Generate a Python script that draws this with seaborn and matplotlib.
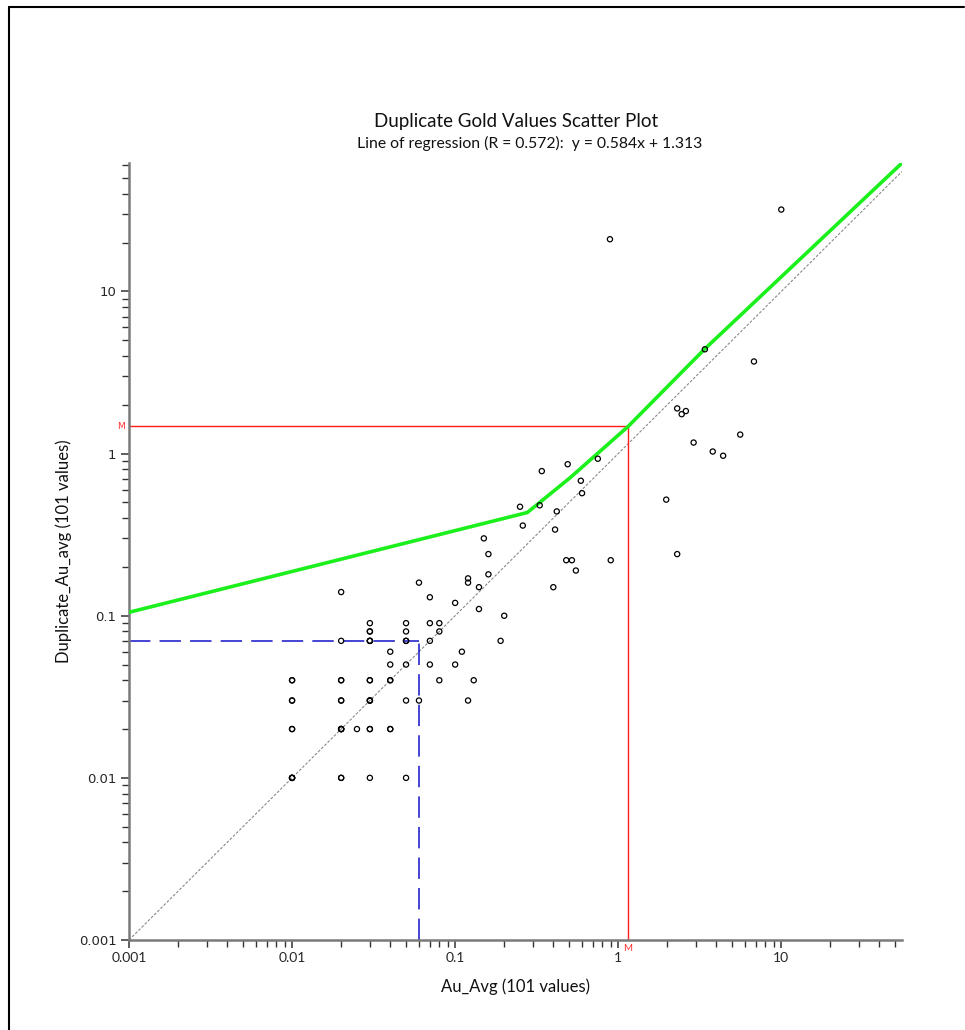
import numpy as np
import pandas as pd
import matplotlib
matplotlib.use("Agg")
import matplotlib.pyplot as plt
import seaborn as sns
from matplotlib.ticker import LogLocator, FixedLocator, FixedFormatter, NullFormatter
from matplotlib.lines import Line2D

# ---------------- data ----------------
au_avg = [
    0.06, 0.02, 0.12, 0.12, 0.07, 0.10,
    0.03, 0.03, 0.03, 0.05, 0.05, 0.05,
    0.07, 0.08, 0.08, 0.02, 0.07, 0.04, 0.11,
    0.04, 0.05, 0.07, 0.10,
    0.01, 0.02, 0.03, 0.04, 0.08, 0.13,
    0.01, 0.02, 0.03, 0.05, 0.06, 0.12,
    0.01, 0.02, 0.025, 0.03, 0.04,
    0.01, 0.02, 0.03, 0.05,
    0.75, 0.49, 0.34, 0.59, 0.60, 0.25, 0.33, 0.42, 0.26, 0.41,
    0.15, 0.16, 0.48, 0.52, 0.90, 0.55, 0.16, 0.14, 0.40, 0.14,
    0.20, 0.19,
    10.0, 0.89, 3.4, 6.8, 2.3, 2.6, 2.45, 5.6, 2.9, 3.8, 4.4, 1.97, 2.3,
    # repeated (overlapping) values
    0.01, 0.01, 0.01, 0.02, 0.02, 0.02, 0.01, 0.01, 0.02, 0.03, 0.03,
    0.02, 0.03, 0.04, 0.03, 0.03, 0.03, 0.03, 0.01, 0.02, 0.05, 0.04,
]
dup_au_avg = [
    0.16, 0.14, 0.17, 0.16, 0.13, 0.12,
    0.09, 0.08, 0.07, 0.09, 0.08, 0.07,
    0.09, 0.09, 0.08, 0.07, 0.07, 0.06, 0.06,
    0.05, 0.05, 0.05, 0.05,
    0.04, 0.04, 0.04, 0.04, 0.04, 0.04,
    0.03, 0.03, 0.03, 0.03, 0.03, 0.03,
    0.02, 0.02, 0.02, 0.02, 0.02,
    0.01, 0.01, 0.01, 0.01,
    0.93, 0.86, 0.78, 0.68, 0.57, 0.47, 0.48, 0.44, 0.36, 0.34,
    0.30, 0.24, 0.22, 0.22, 0.22, 0.19, 0.18, 0.15, 0.15, 0.11,
    0.10, 0.07,
    32.0, 21.0, 4.4, 3.7, 1.90, 1.83, 1.75, 1.31, 1.17, 1.03, 0.97, 0.52, 0.24,
    0.01, 0.01, 0.01, 0.02, 0.02, 0.02, 0.02, 0.03, 0.03, 0.03, 0.03,
    0.04, 0.04, 0.02, 0.02, 0.07, 0.07, 0.08, 0.04, 0.01, 0.07, 0.04,
]

# regression curve as drawn
reg_x = [0.001, 0.277, 0.508, 1.15, 3.37, 55.0]
reg_y = [0.105, 0.433, 0.711, 1.47, 4.39, 62.0]

# mean (M) and median markers
mean_x, mean_y = 1.15, 1.47
median_x, median_y = 0.06, 0.07

x_ticks = [0.001, 0.01, 0.1, 1, 10]
x_tick_labels = ["0.001", "0.01", "0.1", "1", "10"]
y_ticks = [0.001, 0.01, 0.1, 1, 10]
y_tick_labels = ["0.001", "0.01", "0.1", "1", "10"]

x_min, x_max = 0.001, 55.0
y_min, y_max = 0.001, 62.0

title = "Duplicate Gold Values Scatter Plot"
subtitle = "Line of regression (R = 0.572):  y = 0.584x + 1.313"
x_label = "Au_Avg (101 values)"
y_label = "Duplicate_Au_avg (101 values)"

df = pd.DataFrame({"Au_Avg": au_avg, "Dup": dup_au_avg})

# ---------------- plot ----------------
sns.set_theme(style="white")
plt.rcParams["font.family"] = ["Lato", "DejaVu Sans"]

fig = plt.figure(figsize=(9.65, 10.3), dpi=100)
ax = fig.add_axes([129 / 965, 1 - 940 / 1030, 773 / 965, 777 / 1030])
ax.set_xscale("log")
ax.set_yscale("log")
ax.set_xlim(x_min, x_max)
ax.set_ylim(y_min, y_max)

# y = x reference
ax.plot([x_min, x_max], [x_min, x_max], color="#8a8a8a", lw=0.8,
        ls=(0, (2.5, 1.5)), zorder=1)

# median (blue dashed)
blue = "#1212c8"
ax.plot([x_min, median_x], [median_y, median_y], color=blue, lw=1.1,
        ls=(0, (14, 6)), zorder=2)
ax.plot([median_x, median_x], [y_min, median_y], color=blue, lw=1.1,
        ls=(0, (14, 6)), zorder=2)

# mean (red)
ax.plot([x_min, mean_x], [mean_y, mean_y], color="#ff1a1a", lw=1.0, zorder=2)
ax.plot([mean_x, mean_x], [y_min, mean_y], color="#ff1a1a", lw=1.0, zorder=2)

# regression curve
ax.plot(reg_x, reg_y, color="#1cf01c", lw=2.6, zorder=3, solid_capstyle="butt")

# scatter
sns.scatterplot(data=df, x="Au_Avg", y="Dup", ax=ax, marker="o", s=14,
                facecolor="none", edgecolor="black", linewidth=0.9, zorder=4,
                legend=False)

# spines / ticks
for side in ["top", "right"]:
    ax.spines[side].set_visible(False)
for side in ["left", "bottom"]:
    ax.spines[side].set_color("#7a7a7a")
    ax.spines[side].set_linewidth(1.8)

ax.xaxis.set_major_locator(FixedLocator(x_ticks))
ax.xaxis.set_major_formatter(FixedFormatter(x_tick_labels))
ax.yaxis.set_major_locator(FixedLocator(y_ticks))
ax.yaxis.set_major_formatter(FixedFormatter(y_tick_labels))
ax.xaxis.set_minor_locator(LogLocator(base=10, subs=np.arange(2, 10), numticks=20))
ax.yaxis.set_minor_locator(LogLocator(base=10, subs=np.arange(2, 10), numticks=20))
ax.xaxis.set_minor_formatter(NullFormatter())
ax.yaxis.set_minor_formatter(NullFormatter())
ax.tick_params(axis="both", which="major", direction="out", length=6, width=1.1,
               color="#333333", bottom=True, left=True, pad=3)
ax.tick_params(axis="both", which="minor", direction="out", length=5, width=1.0,
               color="#333333", bottom=True, left=True)
for lab in ax.get_xticklabels():
    lab.set_fontfamily(["Lato", "DejaVu Sans"])
    lab.set_fontsize(10)
for lab in ax.get_yticklabels():
    lab.set_fontfamily(["DejaVu Sans"])
    lab.set_fontsize(9.5)
ax.grid(False)

# M labels
ax.annotate("M", xy=(0, mean_y), xycoords=("axes fraction", "data"),
            xytext=(-3, 0), textcoords="offset points", ha="right", va="center",
            color="#ff3030", fontsize=6.5, family="DejaVu Sans")
ax.annotate("M", xy=(mean_x, 0), xycoords=("data", "axes fraction"),
            xytext=(0, -3), textcoords="offset points", ha="center", va="top",
            color="#ff3030", fontsize=7, family="Lato")

ax.set_xlabel(x_label, fontsize=12, labelpad=10, color="#111111")
ax.set_ylabel(y_label, fontsize=12, labelpad=5, color="#111111")

# titles
fig.text(516 / 965, 1 - 121 / 1030, title, ha="center", va="center",
         fontsize=13.5, color="#111111")
fig.text(530 / 965, 1 - 143 / 1030, subtitle, ha="center", va="center",
         fontsize=11.3, color="#111111")

# frame border
fig.add_artist(Line2D([8.5 / 965, 8.5 / 965], [0, 1 - 6.5 / 1030],
                      transform=fig.transFigure, color="black", lw=1.5))
fig.add_artist(Line2D([8.5 / 965, 963.5 / 965], [1 - 6.5 / 1030, 1 - 6.5 / 1030],
                      transform=fig.transFigure, color="black", lw=1.5))

fig.savefig("out.png", dpi=100, facecolor="white")
